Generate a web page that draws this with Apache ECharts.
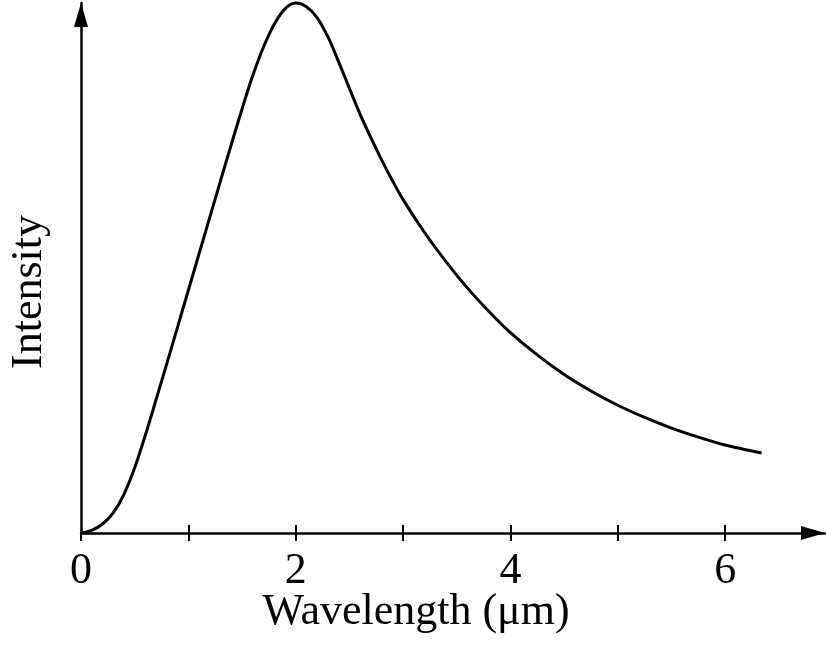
<!DOCTYPE html>
<html>
<head>
<meta charset="utf-8">
<script src="https://cdn.jsdelivr.net/npm/echarts@6/dist/echarts.min.js"></script>
<style>html,body{margin:0;padding:0;background:#fff}#c{width:826px;height:655px}</style>
</head>
<body>
<div id="c"></div>
<script>
const wavelength = [0, 0.1, 0.2, 0.3, 0.4, 0.5, 0.6, 0.7, 0.8, 0.9, 1.0, 1.1, 1.2, 1.3, 1.4, 1.5, 1.6, 1.7, 1.8, 1.9, 2.0, 2.1, 2.2, 2.3, 2.4, 2.5, 2.6, 2.7, 2.8, 2.9, 3.0, 3.2, 3.4, 3.6, 3.8, 4.0, 4.25, 4.5, 4.75, 5.0, 5.25, 5.5, 5.75, 6.0, 6.34];
const intensity  = [0, 0.5, 1.7, 3.8, 7.3, 12.3, 18.5, 25.2, 32.0, 38.9, 45.8, 52.7, 59.6, 66.5, 73.3, 80.0, 86.3, 91.7, 96.0, 98.9, 100, 99.3, 97.2, 93.6, 88.9, 83.9, 79.0, 74.6, 70.4, 66.5, 62.9, 56.7, 51.2, 46.2, 41.8, 37.8, 33.6, 29.9, 26.8, 24.1, 21.8, 19.8, 18.1, 16.6, 15.1];
const tickValues = [0, 1, 2, 3, 4, 5, 6];
const innerTickValues = [1, 2, 3, 4, 5, 6];
const labelValues = [0, 2, 4, 6];
const xName = 'Wavelength (μm)';
const yName = 'Intensity';

const FONT = '"Liberation Serif", "DejaVu Serif", serif';
const chart = echarts.init(document.getElementById('c'));
const axisLineStyle = { color: '#000', width: 2.5 };
chart.setOption({
  animation: false,
  grid: { left: 81, right: 1, top: 3, bottom: 122, containLabel: false, outerBoundsMode: 'none' },
  xAxis: [{
    type: 'value', min: 0, max: 6.93, interval: 1,
    axisLine: { show: true, lineStyle: axisLineStyle, symbol: ['none', 'triangle'], symbolSize: [14, 24], symbolOffset: [0, -12] },
    axisTick: { show: true, inside: false, length: 8, lineStyle: { color: '#000', width: 2 }, customValues: tickValues },
    axisLabel: { show: true, customValues: labelValues, color: '#000', fontFamily: FONT, fontSize: 44, margin: 16 },
    splitLine: { show: false },
    name: xName, nameLocation: 'middle', nameGap: 57, nameMoveOverlap: false,
    nameTextStyle: { color: '#000', fontFamily: FONT, fontSize: 44, padding: [0, 74, 0, 0] }
  }, {
    type: 'value', min: 0, max: 6.93, interval: 1, position: 'bottom',
    axisLine: { show: false },
    axisTick: { show: true, inside: true, length: 8, lineStyle: { color: '#000', width: 2 }, customValues: innerTickValues },
    axisLabel: { show: false },
    splitLine: { show: false }
  }],
  yAxis: {
    type: 'value', min: 0, max: 100,
    axisLine: { show: true, lineStyle: axisLineStyle, symbol: ['none', 'triangle'], symbolSize: [14, 24], symbolOffset: [0, -12] },
    axisTick: { show: false },
    axisLabel: { show: false },
    splitLine: { show: false },
    name: yName, nameLocation: 'middle', nameGap: 30, nameRotate: 90, nameMoveOverlap: false,
    nameTextStyle: { color: '#000', fontFamily: FONT, fontSize: 44, padding: [0, 48, 0, 0] }
  },
  series: [{
    type: 'line', xAxisIndex: 0,
    data: wavelength.map((x, i) => [x, intensity[i]]),
    smooth: 0.3, symbol: 'none', clip: false,
    lineStyle: { color: '#000', width: 3 }
  }]
});
</script>
</body>
</html>
